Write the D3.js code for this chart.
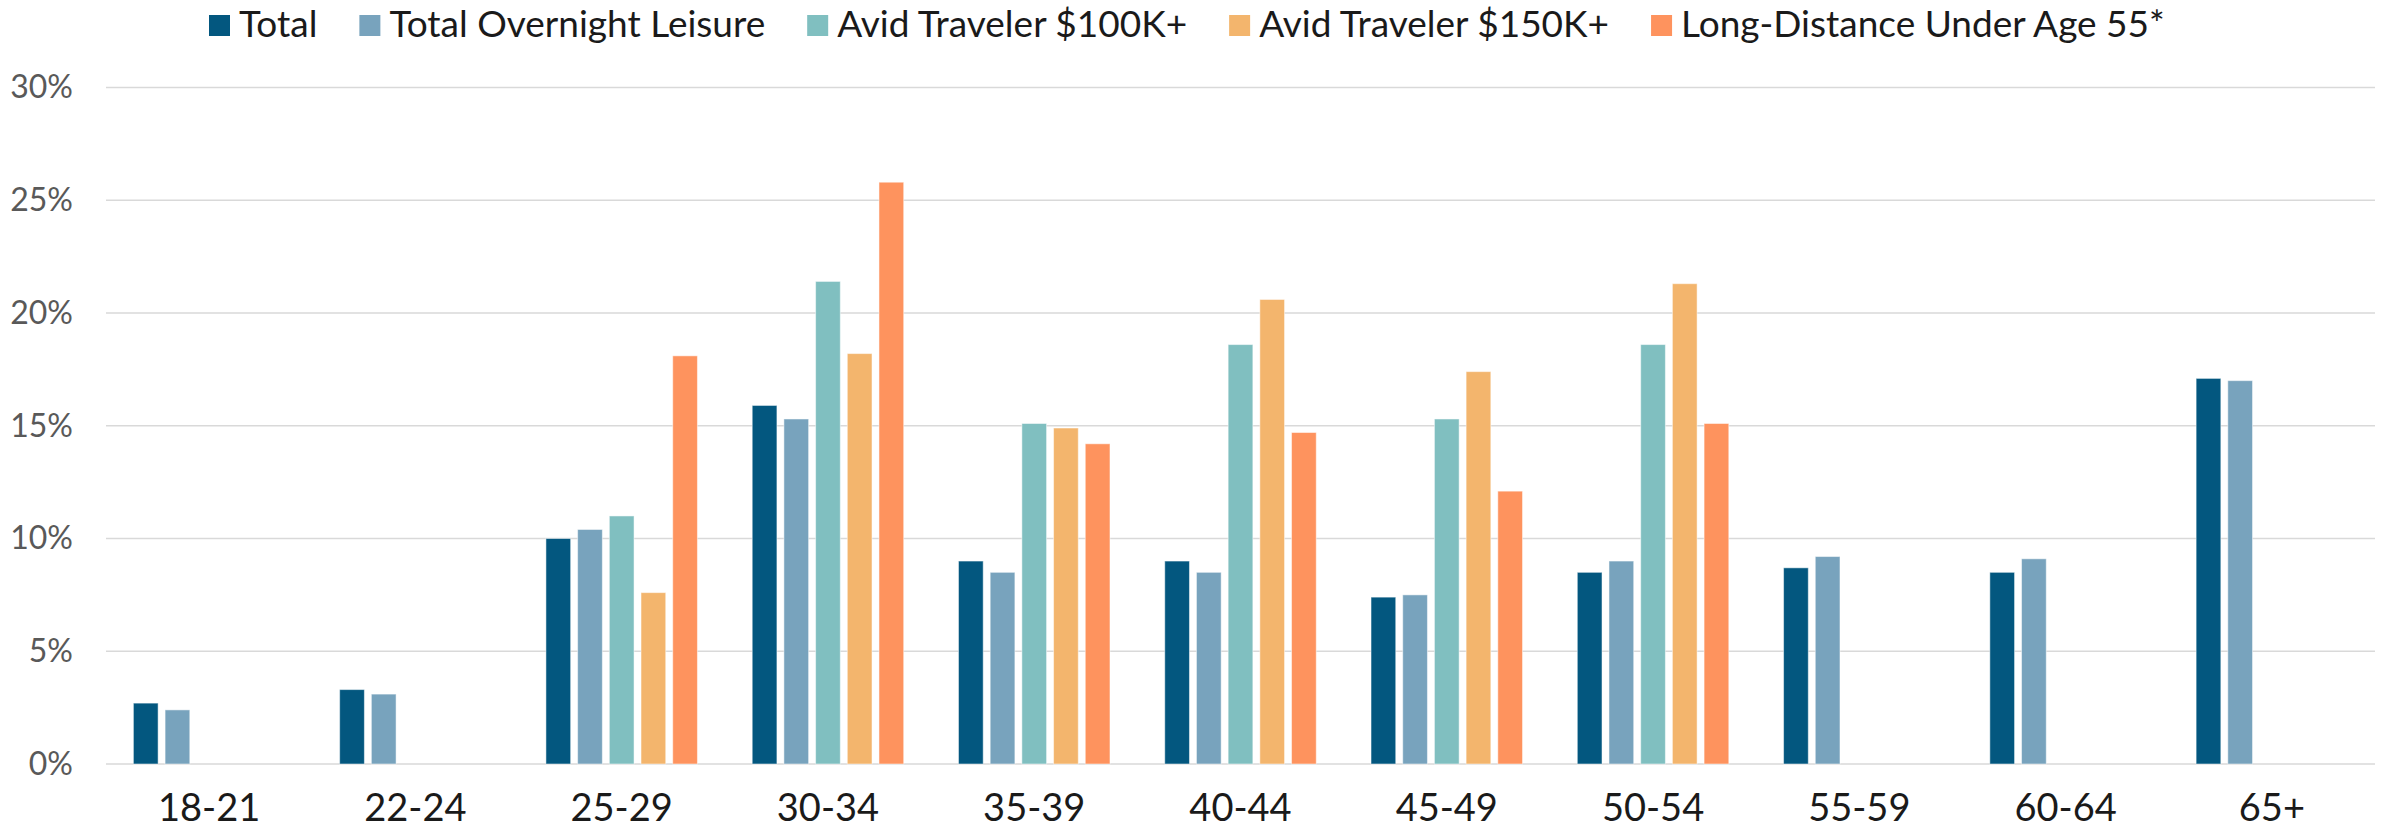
<!DOCTYPE html>
<html>
<head>
<meta charset="utf-8">
<script src="https://cdn.jsdelivr.net/npm/d3@7"></script>
<style>
  body { margin: 0; background: #fff; }
  svg { display: block; font-family: Lato, "Open Sans", sans-serif; }
</style>
</head>
<body>
<div class="chart-container"></div>
<script>
var ageGroups = ["18-21","22-24","25-29","30-34","35-39","40-44","45-49","50-54","55-59","60-64","65+"];
var seriesNames = ["Total","Total Overnight Leisure","Avid Traveler $100K+","Avid Traveler $150K+","Long-Distance Under Age 55*"];
var seriesColors = ["#03577F","#78A3BD","#80BFC0","#F3B56D","#FE935E"];

var total        = [2.7, 3.3, 10.0, 15.9, 9.0, 9.0, 7.4, 8.5, 8.7, 8.5, 17.1];
var overnight    = [2.4, 3.1, 10.4, 15.3, 8.5, 8.5, 7.5, 9.0, 9.2, 9.1, 17.0];
var avid100      = [null, null, 11.0, 21.4, 15.1, 18.6, 15.3, 18.6, null, null, null];
var avid150      = [null, null, 7.6, 18.2, 14.9, 20.6, 17.4, 21.3, null, null, null];
var longDistance = [null, null, 18.1, 25.8, 14.2, 14.7, 12.1, 15.1, null, null, null];

var yTicks = [0, 5, 10, 15, 20, 25, 30];

var allSeries = [total, overnight, avid100, avid150, longDistance];

var width = 2387, height = 830;
var margin = {top: 87.5, right: 12, bottom: 66, left: 106};
var plotW = width - margin.left - margin.right,
    plotH = height - margin.top - margin.bottom;

var svg = d3.select(".chart-container").append("svg")
    .attr("width", width)
    .attr("height", height);

var x0 = d3.scaleBand()
    .domain(ageGroups)
    .range([margin.left, margin.left + plotW])
    .paddingInner(0)
    .paddingOuter(0);

var x1 = d3.scaleBand()
    .domain(d3.range(seriesNames.length))
    .range([0, x0.bandwidth()])
    .paddingInner(0.22)
    .paddingOuter(0.864);

var y = d3.scaleLinear()
    .domain([0, 30])
    .range([margin.top + plotH, margin.top]);

// gridlines
svg.append("g")
    .attr("class", "grid")
    .selectAll("line")
    .data(yTicks)
    .enter().append("line")
        .attr("x1", margin.left)
        .attr("x2", margin.left + plotW)
        .attr("y1", function(d){ return y(d); })
        .attr("y2", function(d){ return y(d); })
        .attr("stroke", "#d9d9d9")
        .attr("stroke-width", 1.5);

// y axis labels
svg.append("g")
    .attr("transform", "translate(" + (margin.left - 30) + ",0)")
    .call(d3.axisLeft(y).tickValues(yTicks).tickSize(0).tickFormat(function(d){ return d + "%"; }))
    .call(function(g){ g.select(".domain").remove(); })
    .selectAll("text")
        .attr("font-family", "Lato, 'Open Sans', sans-serif")
        .attr("font-size", 32)
        .attr("fill", "#595959")
        .attr("dx", 0);

// x axis labels
svg.append("g")
    .attr("transform", "translate(0," + (margin.top + plotH) + ")")
    .call(d3.axisBottom(x0).tickSize(0).tickPadding(30))
    .call(function(g){ g.select(".domain").remove(); })
    .selectAll("text")
        .attr("font-family", "Lato, 'Open Sans', sans-serif")
        .attr("font-size", 38)
        .attr("fill", "#1a1a1a");

// bars
var rows = ageGroups.map(function(a, i){
    return allSeries.map(function(s, j){ return {cat: a, idx: j, value: s[i]}; });
});

svg.append("g")
    .attr("class", "bars")
    .selectAll("g")
    .data(rows)
    .enter().append("g")
        .attr("transform", function(d){ return "translate(" + x0(d[0].cat) + ",0)"; })
    .selectAll("rect")
    .data(function(d){ return d.filter(function(e){ return e.value != null; }); })
    .enter().append("rect")
        .attr("x", function(d){ return x1(d.idx); })
        .attr("width", x1.bandwidth())
        .attr("y", function(d){ return y(d.value); })
        .attr("height", function(d){ return y(0) - y(d.value); })
        .attr("fill", function(d){ return seriesColors[d.idx]; })
        .attr("stroke", "#ffffff")
        .attr("stroke-opacity", 0.5)
        .attr("stroke-width", 1);

// legend
var legend = svg.append("g").attr("class", "legend");
var items = legend.selectAll("g")
    .data(seriesNames)
    .enter().append("g");

items.append("rect")
    .attr("width", 21)
    .attr("height", 21)
    .attr("y", 15)
    .attr("fill", function(d, i){ return seriesColors[i]; });

items.append("text")
    .attr("x", 30)
    .attr("y", 37)
    .attr("font-size", 37)
    .attr("fill", "#1a1a1a")
    .text(function(d){ return d; });

var lx = 0;
items.each(function(){
    var g = d3.select(this);
    g.attr("transform", "translate(" + lx + ",0)");
    lx += 30 + g.select("text").node().getComputedTextLength() + 42;
});
legend.attr("transform", "translate(209,0)");
</script>
</body>
</html>
